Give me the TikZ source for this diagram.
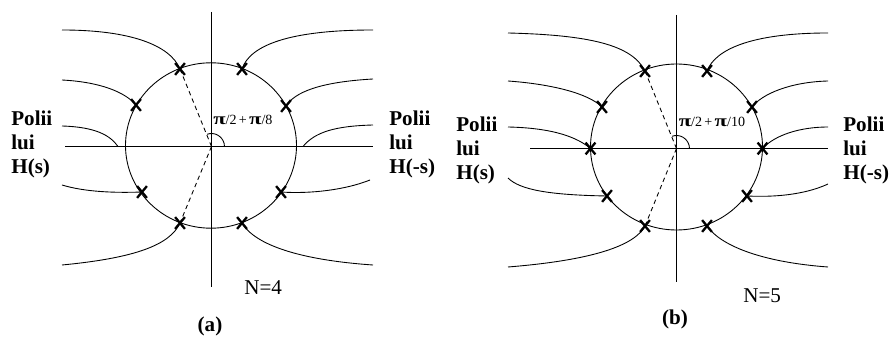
\documentclass[tikz,border=0pt]{standalone}
\usepackage{fontspec}
\setmainfont{Liberation Serif}
\usetikzlibrary{shapes.misc}
\newcommand\bigpi{\scalebox{1.35}[1.0]{\fontsize{9.5}{9.5}\selectfont\bfseries π}}
\begin{document}
\begin{tikzpicture}[x=0.02cm,y=-0.02cm,
  axisln/.style={line width=0.75pt},
  curveln/.style={line width=0.5pt},
  dashln/.style={line width=0.5pt,dash pattern=on 2.5pt off 2pt},
  polemark/.style={draw,cross out,line width=1.3pt,minimum width=0.15cm,minimum height=0.19cm,inner sep=0pt},
  lbl/.style={font=\fontsize{12}{14}\selectfont\bfseries,anchor=base west,inner sep=0pt},
  nlbl/.style={font=\fontsize{12}{14}\selectfont,anchor=base west,inner sep=0pt},
  anglbl/.style={font=\fontsize{8}{9}\selectfont,anchor=base west,inner sep=0pt}]
\useasboundingbox (0,0) rectangle (889,337);

% ================= panel (a) =================
\coordinate (ca) at (211.5,146.5);
\coordinate (a1) at (180,69);
\coordinate (a2) at (136,105);
\coordinate (a3) at (142,192);
\coordinate (a4) at (180,223);
\coordinate (a5) at (242,69);
\coordinate (a6) at (286,106);
\coordinate (a7) at (281,192);
\coordinate (a8) at (242,223);
\coordinate (aT) at (211.5,12);
\coordinate (aB) at (211.5,287);
\coordinate (aL) at (65,146.5);
\coordinate (aR) at (373,146.5);
\coordinate (aq1) at (118,146.5);
\coordinate (aq2) at (303,146.5);

\draw[axisln] (aT) -- (aB);
\draw[axisln] (aL) -- (aR);
\draw[curveln] (211,145.5) ellipse [x radius=85.5, y radius=82.7];

\draw[curveln] (62,30) .. controls (130,30) and (170,45) .. (a1);
\draw[curveln] (62,80) .. controls (100,82) and (125,92) .. (a2);
\draw[curveln] (62,126) .. controls (95,127) and (110,135) .. (aq1);
\draw[curveln] (62,185) .. controls (85,192) and (115,193) .. (a3);
\draw[curveln] (62,265) .. controls (135,258) and (170,245) .. (a4);
\draw[curveln] (a5) .. controls (250,45) and (290,30) .. (373,30);
\draw[curveln] (a6) .. controls (295,92) and (320,82) .. (373,79);
\draw[curveln] (aq2) .. controls (315,132) and (335,126) .. (373,125);
\draw[curveln] (a7) .. controls (310,194) and (345,190) .. (370,180);
\draw[curveln] (a8) .. controls (255,245) and (300,260) .. (373,265);

\draw[dashln] (ca) -- (a1);
\draw[dashln] (ca) -- (a4);
\draw[curveln] (ca) ++(0.26cm,0) arc[start angle=0,end angle=110,radius=0.26cm];

\foreach \p in {a1,a2,a3,a4,a5,a6,a7,a8} \node[polemark] at (\p) {};

\node[anglbl] (angA) at (213,124.5) {\bigpi/2\,+\,\bigpi/8};

\node[lbl] (pa1) at (11,126) {Polii};
\node[lbl] (pa2) at (11,150) {lui};
\node[lbl] (pa3) at (11,174) {H(s)};
\node[lbl] (pa4) at (389,126) {Polii};
\node[lbl] (pa5) at (389,150) {lui};
\node[lbl] (pa6) at (389,174) {H(-s)};
\node[nlbl] (na) at (244,295) {N=4};
\node[lbl,anchor=base] (capa) at (210,331.5) {(a)};

% ================= panel (b) =================
\coordinate (cb) at (676.5,148.5);
\coordinate (b1) at (645,71);
\coordinate (b2) at (602,107);
\coordinate (b3) at (590.5,148.5);
\coordinate (b4) at (607,196);
\coordinate (b5) at (645,226);
\coordinate (b6) at (707,71);
\coordinate (b7) at (752,107);
\coordinate (b8) at (762.5,148.5);
\coordinate (b9) at (747,196);
\coordinate (b10) at (707,226);
\coordinate (bT) at (676.5,15);
\coordinate (bB) at (676.5,282);
\coordinate (bL) at (530,148.5);
\coordinate (bR) at (828,148.5);

\draw[axisln] (bT) -- (bB);
\draw[axisln] (bL) -- (bR);
\draw[curveln] (676.5,147) ellipse [x radius=86, y radius=83];

\draw[curveln] (508,33) .. controls (590,35) and (632,45) .. (b1);
\draw[curveln] (508,81) .. controls (550,84) and (588,93) .. (b2);
\draw[curveln] (508,127) .. controls (555,128) and (578,138) .. (b3);
\draw[curveln] (508,178) .. controls (520,190) and (550,195) .. (b4);
\draw[curveln] (508,267) .. controls (595,260) and (635,245) .. (b5);
\draw[curveln] (b6) .. controls (715,50) and (750,33) .. (828,33);
\draw[curveln] (b7) .. controls (762,94) and (790,82) .. (828,81);
\draw[curveln] (b8) .. controls (775,135) and (800,127) .. (828,127);
\draw[curveln] (b9) .. controls (790,198) and (815,190) .. (828,184);
\draw[curveln] (b10) .. controls (720,245) and (760,262) .. (828,267);

\draw[dashln] (cb) -- (b1);
\draw[dashln] (cb) -- (b5);
\draw[curveln] (cb) ++(0.26cm,0) arc[start angle=0,end angle=110,radius=0.26cm];

\foreach \p in {b1,b2,b3,b4,b5,b6,b7,b8,b9,b10} \node[polemark] at (\p) {};

\node[anglbl] (angB) at (678.5,127) {\bigpi/2\,+\,\bigpi/10};

\node[lbl] (pb1) at (456,132) {Polii};
\node[lbl] (pb2) at (456,156) {lui};
\node[lbl] (pb3) at (456,180) {H(s)};
\node[lbl] (pb4) at (843,132) {Polii};
\node[lbl] (pb5) at (843,156) {lui};
\node[lbl] (pb6) at (843,180) {H(-s)};
\node[nlbl] (nb) at (743,303) {N=5};
\node[lbl,anchor=base] (capb) at (675,325) {(b)};
\end{tikzpicture}
\end{document}
